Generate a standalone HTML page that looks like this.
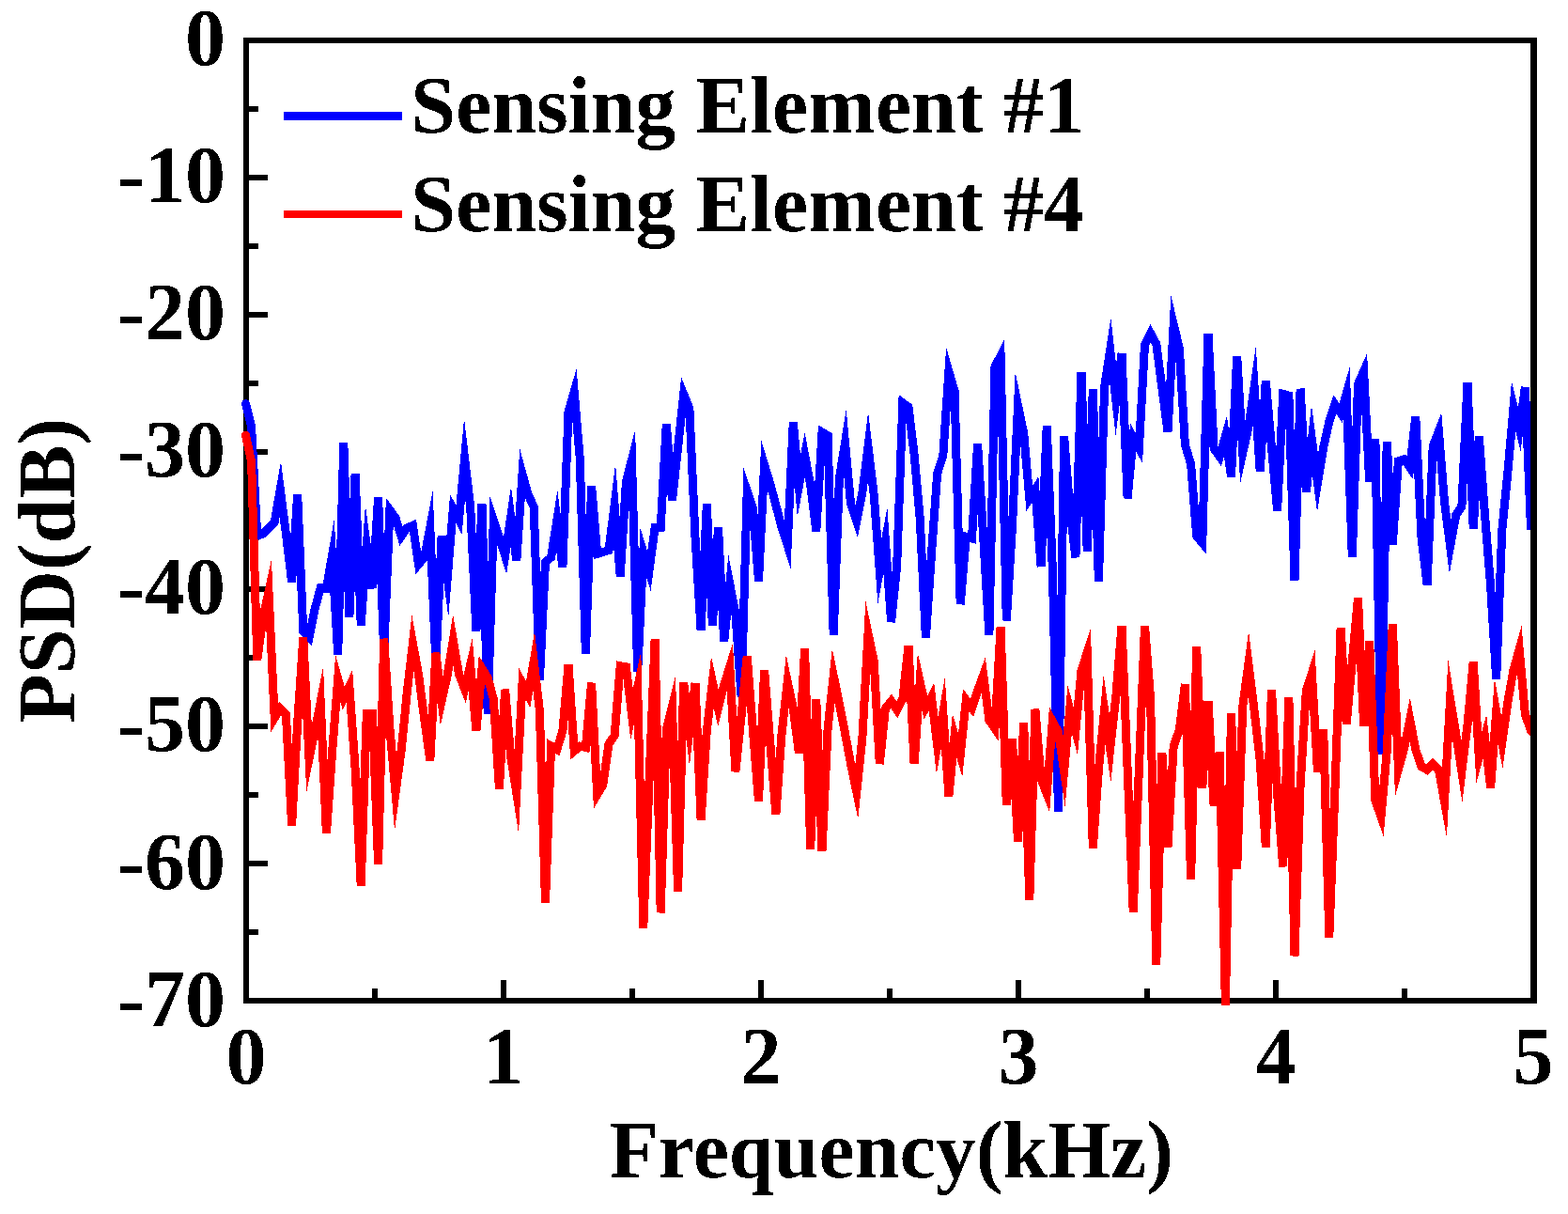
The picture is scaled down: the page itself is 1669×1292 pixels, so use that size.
<!DOCTYPE html>
<html lang="en">
<head>
<meta charset="utf-8">
<title>PSD of Sensing Elements</title>
<style>
html,body{margin:0;padding:0;background:#fff;}
body{width:1669px;height:1292px;overflow:hidden;position:relative;}
svg{position:absolute;left:0;top:0;display:block;}
text{filter:url(#crisp);font-family:"Liberation Serif",serif;font-weight:bold;font-size:86px;fill:#000;}
</style>
</head>
<body>
<svg width="1669" height="1292" viewBox="0 0 1669 1292">
<defs>
<filter id="crisp" x="-5%" y="-5%" width="110%" height="110%" color-interpolation-filters="sRGB"><feComponentTransfer><feFuncA type="discrete" tableValues="0 1"/></feComponentTransfer></filter>
<clipPath id="plotclip"><rect x="255" y="38" width="1377" height="1036"/></clipPath>
</defs>
<rect x="0" y="0" width="1669" height="1292" fill="#fff"/>
<!-- left and bottom axes with ticks -->
<g fill="#000" shape-rendering="crispEdges">
<rect x="259" y="40" width="6" height="1028"/>
<rect x="259" y="1062" width="1377" height="6"/>
<!-- y major ticks -->
<rect x="265" y="40" width="20" height="6"/>
<rect x="265" y="186" width="20" height="6"/>
<rect x="265" y="332" width="20" height="6"/>
<rect x="265" y="478" width="20" height="6"/>
<rect x="265" y="624" width="20" height="6"/>
<rect x="265" y="770" width="20" height="6"/>
<rect x="265" y="916" width="20" height="6"/>
<!-- y minor ticks -->
<rect x="265" y="113" width="10" height="6"/>
<rect x="265" y="259" width="10" height="6"/>
<rect x="265" y="405" width="10" height="6"/>
<rect x="265" y="551" width="10" height="6"/>
<rect x="265" y="697" width="10" height="6"/>
<rect x="265" y="843" width="10" height="6"/>
<rect x="265" y="989" width="10" height="6"/>
<!-- x major ticks -->
<rect x="533" y="1043" width="6" height="19"/>
<rect x="807" y="1043" width="6" height="19"/>
<rect x="1081" y="1043" width="6" height="19"/>
<rect x="1355" y="1043" width="6" height="19"/>
<!-- x minor ticks -->
<rect x="396" y="1052" width="6" height="10"/>
<rect x="670" y="1052" width="6" height="10"/>
<rect x="944" y="1052" width="6" height="10"/>
<rect x="1218" y="1052" width="6" height="10"/>
<rect x="1492" y="1052" width="6" height="10"/>
</g>
<!-- data -->
<g clip-path="url(#plotclip)" fill="none" stroke-width="9" stroke-linejoin="miter" stroke-miterlimit="10" stroke-linecap="round" shape-rendering="crispEdges">
<polyline stroke="#0000ff" points="261.5,429.6 267.6,454.0 273.8,570.4 279.9,568.0 286.0,562.0 292.2,555.5 298.3,520.9 304.4,568.0 310.6,619.3 316.7,526.0 322.8,672.2 329.0,678.5 335.1,648.3 341.2,625.6 347.4,626.4 353.5,591.4 359.7,696.6 365.8,471.1 371.9,657.1 378.1,503.8 384.2,665.4 390.3,580.9 396.5,626.1 402.6,529.0 408.7,693.6 414.9,542.8 421.0,551.1 427.1,570.7 433.3,561.7 439.4,559.2 445.5,600.6 451.7,593.2 457.8,561.2 463.9,706.2 470.1,570.5 476.2,615.1 482.3,541.6 488.5,553.2 494.6,487.9 500.7,539.1 506.9,672.2 513.0,536.5 519.2,760.3 525.3,553.4 531.4,571.8 537.6,591.4 543.7,550.2 549.8,596.9 556.0,504.4 562.1,526.5 568.2,539.1 574.4,723.8 580.5,598.2 586.6,593.2 592.8,553.9 598.9,603.7 605.0,438.4 611.2,416.9 617.3,488.7 623.4,696.1 629.6,516.9 635.7,589.4 641.8,587.6 648.0,585.6 654.1,537.4 660.2,613.3 666.4,512.6 672.5,489.1 678.7,715.0 684.8,587.9 690.9,607.9 697.1,561.7 703.2,561.7 709.3,451.0 715.5,532.8 721.6,476.2 727.7,419.5 733.9,434.6 740.0,571.8 746.1,670.9 752.3,536.5 758.4,665.9 764.5,561.2 770.7,683.0 776.8,621.7 782.9,653.3 789.1,741.4 795.2,522.6 801.3,540.3 807.5,618.3 813.6,494.6 819.7,514.4 825.9,537.8 832.0,561.0 838.2,580.2 844.3,449.0 850.4,517.4 856.6,484.4 862.7,516.4 868.8,565.5 875.0,460.0 881.1,463.6 887.2,676.0 893.4,508.9 899.5,471.2 905.6,536.5 911.8,554.9 917.9,524.0 924.0,475.2 930.2,526.5 936.3,607.7 942.4,575.2 948.6,662.1 954.7,602.0 960.8,428.7 967.0,433.2 973.1,483.7 979.2,551.6 985.4,678.5 991.5,589.4 997.7,503.8 1003.8,485.0 1009.9,395.2 1016.1,416.4 1022.2,643.2 1028.3,571.3 1034.5,573.0 1040.6,472.4 1046.7,571.8 1052.9,676.0 1059.0,390.3 1065.1,378.6 1071.3,660.4 1077.4,561.7 1083.5,431.4 1089.7,461.1 1095.8,530.5 1101.9,520.9 1108.1,603.2 1114.2,453.0 1120.3,605.5 1126.5,864.4 1132.6,464.1 1138.7,541.6 1144.9,593.2 1151.0,396.1 1157.2,586.9 1163.3,414.5 1169.4,619.1 1175.6,412.0 1181.7,372.2 1187.8,425.7 1194.0,376.0 1200.1,530.3 1206.2,465.6 1212.4,477.0 1218.5,366.7 1224.6,354.6 1230.8,365.9 1236.9,413.2 1243.0,459.3 1249.2,345.3 1255.3,370.5 1261.4,473.6 1267.6,493.8 1273.7,570.5 1279.8,577.9 1286.0,354.9 1292.1,477.4 1298.2,486.0 1304.4,464.3 1310.5,507.6 1316.7,378.8 1322.8,481.9 1328.9,454.8 1335.1,411.4 1341.2,501.3 1347.3,405.2 1353.5,476.2 1359.6,543.6 1365.7,419.4 1371.9,421.1 1378.0,617.6 1384.1,413.7 1390.3,524.0 1396.4,468.0 1402.5,514.0 1408.7,476.2 1414.8,448.5 1420.9,430.5 1427.1,439.7 1433.2,418.7 1439.3,593.2 1445.5,408.7 1451.6,395.0 1457.7,512.6 1463.9,467.3 1470.0,803.0 1476.2,470.4 1482.3,579.3 1488.4,490.7 1494.6,488.7 1500.7,497.5 1506.8,443.4 1513.0,571.8 1519.1,622.4 1525.2,474.9 1531.4,458.9 1537.5,534.0 1543.6,581.5 1549.8,547.9 1555.9,539.1 1562.0,407.0 1568.2,562.5 1574.3,464.1 1580.4,546.6 1586.6,623.4 1592.7,722.5 1598.8,564.2 1605.0,501.3 1611.1,432.6 1617.2,456.6 1623.4,412.0 1629.5,563.5 1635.7,476.2"/>
<polyline stroke="#ff0000" points="261.5,463.1 267.6,491.3 273.8,702.4 279.9,657.3 286.0,629.6 292.2,764.2 298.3,754.0 304.4,760.3 310.6,878.3 316.7,769.1 322.8,678.5 329.0,807.3 335.1,777.6 341.2,747.0 347.4,887.1 353.5,801.8 359.7,722.1 365.8,743.2 371.9,730.3 378.1,817.9 384.2,942.4 390.3,759.8 396.5,759.8 402.6,920.3 408.7,679.7 414.9,775.1 421.0,843.7 427.1,799.0 433.3,736.9 439.4,684.6 445.5,717.5 451.7,765.3 457.8,809.6 463.9,694.8 470.1,746.1 476.2,718.7 482.3,681.3 488.5,717.5 494.6,733.2 500.7,707.3 506.9,777.9 513.0,711.4 519.2,721.3 525.3,743.9 531.4,839.3 537.6,733.8 543.7,805.3 549.8,843.9 556.0,727.4 562.1,739.3 568.2,703.7 574.4,756.5 580.5,961.3 586.6,794.0 592.8,797.7 598.9,777.9 605.0,707.4 611.2,799.3 617.3,794.2 623.4,795.5 629.6,726.8 635.7,845.7 641.8,835.5 648.0,791.7 654.1,782.9 660.2,708.7 666.4,709.8 672.5,760.3 678.7,731.3 684.8,987.7 690.9,834.0 697.1,680.5 703.2,971.4 709.3,776.6 715.5,751.7 721.6,949.2 727.7,726.3 733.9,777.4 740.0,727.0 746.1,873.2 752.3,777.9 758.4,725.9 764.5,753.8 770.7,728.8 776.8,709.3 782.9,821.2 789.1,761.5 795.2,698.1 801.3,775.6 807.5,853.1 813.6,712.9 819.7,789.4 825.9,866.2 832.0,781.6 838.2,725.3 844.3,754.0 850.4,801.8 856.6,690.6 862.7,903.4 868.8,744.4 875.0,905.5 881.1,775.4 887.2,719.0 893.4,748.9 899.5,780.4 905.6,813.1 911.8,842.8 917.9,785.2 924.0,674.0 930.2,703.6 936.3,813.1 942.4,754.0 948.6,746.2 954.7,755.5 960.8,743.9 967.0,687.3 973.1,813.1 979.2,725.5 985.4,753.0 991.5,741.6 997.7,793.2 1003.8,758.2 1009.9,847.3 1016.1,782.9 1022.2,803.7 1028.3,745.0 1034.5,753.4 1040.6,735.1 1046.7,718.4 1052.9,766.5 1059.0,775.4 1065.1,667.1 1071.3,856.4 1077.4,786.7 1083.5,895.4 1089.7,769.1 1095.8,957.5 1101.9,754.7 1108.1,829.2 1114.2,844.7 1120.3,767.7 1126.5,779.1 1132.6,820.7 1138.7,754.8 1144.9,778.2 1151.0,713.7 1157.2,694.5 1163.3,902.7 1169.4,819.4 1175.6,755.6 1181.7,797.0 1187.8,741.4 1194.0,665.9 1200.1,818.1 1206.2,970.6 1212.4,818.1 1218.5,665.9 1224.6,743.9 1230.8,1026.7 1236.9,801.5 1243.0,901.7 1249.2,794.2 1255.3,776.6 1261.4,728.0 1267.6,935.4 1273.7,688.0 1279.8,838.5 1286.0,745.9 1292.1,857.4 1298.2,800.3 1304.4,1070.0 1310.5,759.0 1316.7,925.3 1322.8,751.4 1328.9,706.4 1335.1,756.5 1341.2,809.3 1347.3,901.4 1353.5,733.8 1359.6,844.6 1365.7,922.3 1371.9,742.6 1378.0,1017.4 1384.1,835.5 1390.3,735.1 1396.4,716.2 1402.5,821.7 1408.7,776.6 1414.8,997.8 1420.9,842.0 1427.1,667.9 1433.2,771.1 1439.3,703.6 1445.5,636.2 1451.6,772.3 1457.7,682.2 1463.9,851.9 1470.0,869.3 1476.2,800.0 1482.3,664.1 1488.4,818.9 1494.6,796.7 1500.7,765.9 1506.8,797.7 1513.0,815.9 1519.1,819.3 1525.2,812.8 1531.4,819.1 1537.5,852.9 1543.6,743.7 1549.8,781.6 1555.9,821.1 1562.0,771.6 1568.2,704.1 1574.3,806.0 1580.4,784.0 1586.6,838.3 1592.7,757.2 1598.8,790.2 1605.0,746.4 1611.1,712.4 1617.2,690.9 1623.4,760.3 1629.5,777.9 1635.7,781.6"/>
</g>
<!-- top and right frame lines (drawn above data) -->
<g fill="#000" shape-rendering="crispEdges">
<rect x="259" y="40" width="1377" height="6"/>
<rect x="1629" y="40" width="7" height="1028"/>
</g>
<!-- legend -->
<g shape-rendering="crispEdges">
<rect x="302" y="119" width="126" height="9" fill="#0000ff"/>
<rect x="302" y="224" width="126" height="8" fill="#ff0000"/>
</g>
<text x="437.3" y="141.4">Sensing Element #1</text>
<text x="437.3" y="245.6">Sensing Element #4</text>
<!-- y tick labels -->
<g text-anchor="end">
<text x="240" y="68.7">0</text>
<text x="240" y="214.8">-10</text>
<text x="240" y="361.0">-20</text>
<text x="240" y="507.1">-30</text>
<text x="240" y="653.2">-40</text>
<text x="240" y="799.4">-50</text>
<text x="240" y="945.5">-60</text>
<text x="240" y="1091.6">-70</text>
</g>
<!-- x tick labels -->
<g text-anchor="middle">
<text x="262" y="1153.1">0</text>
<text x="536" y="1153.1">1</text>
<text x="810" y="1153.1">2</text>
<text x="1084" y="1153.1">3</text>
<text x="1358" y="1153.1">4</text>
<text x="1632" y="1153.1">5</text>
</g>
<!-- axis titles -->
<text x="948.7" y="1252.5" text-anchor="middle">Frequency(kHz)</text>
<text transform="translate(78.8,607.3) rotate(-90)" text-anchor="middle">PSD(dB)</text>
</svg>
</body>
</html>
